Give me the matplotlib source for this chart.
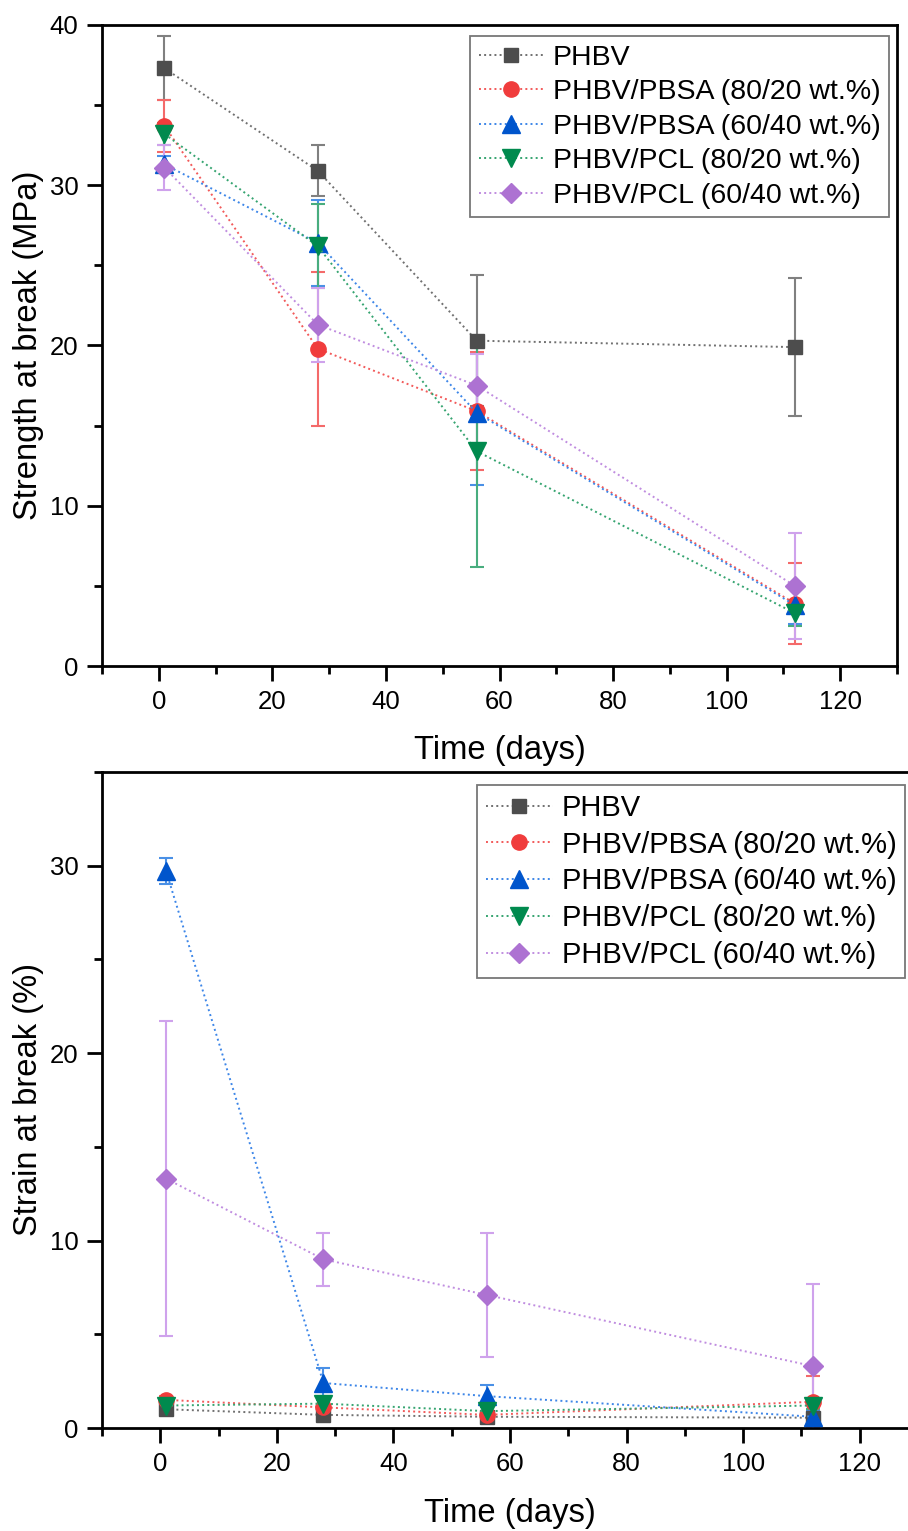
import matplotlib
matplotlib.use("Agg")
import matplotlib.pyplot as plt
from matplotlib.ticker import MultipleLocator

plt.rcParams['font.family'] = ['Liberation Sans', 'DejaVu Sans']

days = [1, 28, 56, 112]
labels = ["PHBV", "PHBV/PBSA (80/20 wt.%)", "PHBV/PBSA (60/40 wt.%)",
          "PHBV/PCL (80/20 wt.%)", "PHBV/PCL (60/40 wt.%)"]

# Strength at break (MPa)
strength_phbv = [37.3, 30.9, 20.3, 19.9]
strength_phbv_err = [2.0, 1.6, 4.1, 4.3]
strength_pbsa80 = [33.7, 19.8, 15.9, 3.9]
strength_pbsa80_err = [1.6, 4.8, 3.7, 2.5]
strength_pbsa60 = [31.3, 26.4, 15.8, 3.8]
strength_pbsa60_err = [0.5, 2.7, 4.5, 1.2]
strength_pcl80 = [33.2, 26.2, 13.4, 3.3]
strength_pcl80_err = [0.7, 2.6, 7.2, 0.8]
strength_pcl60 = [31.1, 21.3, 17.5, 5.0]
strength_pcl60_err = [1.4, 2.3, 2.0, 3.3]

# Strain at break (%)
strain_phbv = [1.0, 0.7, 0.6, 0.55]
strain_phbv_err = [0.1, 0.1, 0.1, 0.1]
strain_pbsa80 = [1.5, 1.1, 0.7, 1.4]
strain_pbsa80_err = [0.2, 0.2, 0.2, 1.4]
strain_pbsa60 = [29.7, 2.4, 1.7, 0.6]
strain_pbsa60_err = [0.7, 0.8, 0.6, 0.3]
strain_pcl80 = [1.2, 1.3, 0.9, 1.2]
strain_pcl80_err = [0.2, 0.2, 0.2, 0.2]
strain_pcl60 = [13.3, 9.0, 7.1, 3.3]
strain_pcl60_err = [8.4, 1.4, 3.3, 4.4]

markers = ['s', 'o', '^', 'v', 'D']
msizes = [10, 11, 12.5, 12.5, 10]
mcolors = ['#4d4d4d', '#f03c3c', '#0055cc', '#008a4e', '#ad72d2']
lcolors = ['#707070', '#f25a5a', '#3d86e8', '#35a470', '#c08de0']
ecolors = ['#808080', '#f46a6a', '#4a90e6', '#48ad7e', '#cfa2ec']

fig = plt.figure(figsize=(9.08, 15.31), dpi=100)
ax1 = fig.add_axes([102/908, 1-666/1531, 795/908, 641/1531])
ax2 = fig.add_axes([102/908, 1-1428/1531, 816/908, 656/1531])

top_series = [(strength_phbv, strength_phbv_err), (strength_pbsa80, strength_pbsa80_err),
              (strength_pbsa60, strength_pbsa60_err), (strength_pcl80, strength_pcl80_err),
              (strength_pcl60, strength_pcl60_err)]
bot_series = [(strain_phbv, strain_phbv_err), (strain_pbsa80, strain_pbsa80_err),
              (strain_pbsa60, strain_pbsa60_err), (strain_pcl80, strain_pcl80_err),
              (strain_pcl60, strain_pcl60_err)]

def draw(ax, series, ylim, ylabel, ylabel_x, xlabel_y, legend_fs):
    handles = []
    for i, (vals, errs) in enumerate(series):
        ax.errorbar(days, vals, yerr=errs, fmt='none', ecolor=ecolors[i],
                    elinewidth=1.5, capsize=4.8, capthick=1.5, zorder=2)
        h, = ax.plot(days, vals, ls=':', lw=1.4, color=lcolors[i], marker=markers[i],
                     ms=msizes[i], mfc=mcolors[i], mec=mcolors[i], label=labels[i], zorder=3)
        handles.append(h)
    ax.set_xlim(-10, 130)
    ax.set_ylim(*ylim)
    ax.xaxis.set_major_locator(MultipleLocator(20))
    ax.xaxis.set_minor_locator(MultipleLocator(10))
    ax.yaxis.set_major_locator(MultipleLocator(10))
    ax.yaxis.set_minor_locator(MultipleLocator(5))
    ax.tick_params(which='major', direction='out', length=11, width=2, labelsize=18.5, pad=6)
    ax.tick_params(which='minor', direction='out', length=6, width=2)
    for sp in ax.spines.values():
        sp.set_linewidth(2)
    ax.set_xlabel("Time (days)", fontsize=23.6)
    ax.set_ylabel(ylabel, fontsize=23.6)
    ax.yaxis.set_label_coords(ylabel_x, 0.5)
    ax.xaxis.set_label_coords(0.5, xlabel_y)
    leg = ax.legend(handles=handles, loc='upper right', fontsize=legend_fs, frameon=True,
                    fancybox=False, edgecolor='#555555', handlelength=2.3,
                    handletextpad=0.3, labelspacing=0.3, borderpad=0.3,
                    borderaxespad=0.35)
    leg.get_frame().set_linewidth(1.3)
    return leg

leg1 = draw(ax1, top_series, (0, 40), "Strength at break (MPa)", -0.073, -0.107, 20.5)
leg1.set_bbox_to_anchor((889/908, 1-36/1531), transform=fig.transFigure)
leg1.borderaxespad = 0
leg2 = draw(ax2, bot_series, (0, 35), "Strain at break (%)", -0.071, -0.107, 21)
leg2.set_bbox_to_anchor((905/908, 1-785/1531), transform=fig.transFigure)
leg2.borderaxespad = 0

fig.savefig("out.png", dpi=100)
